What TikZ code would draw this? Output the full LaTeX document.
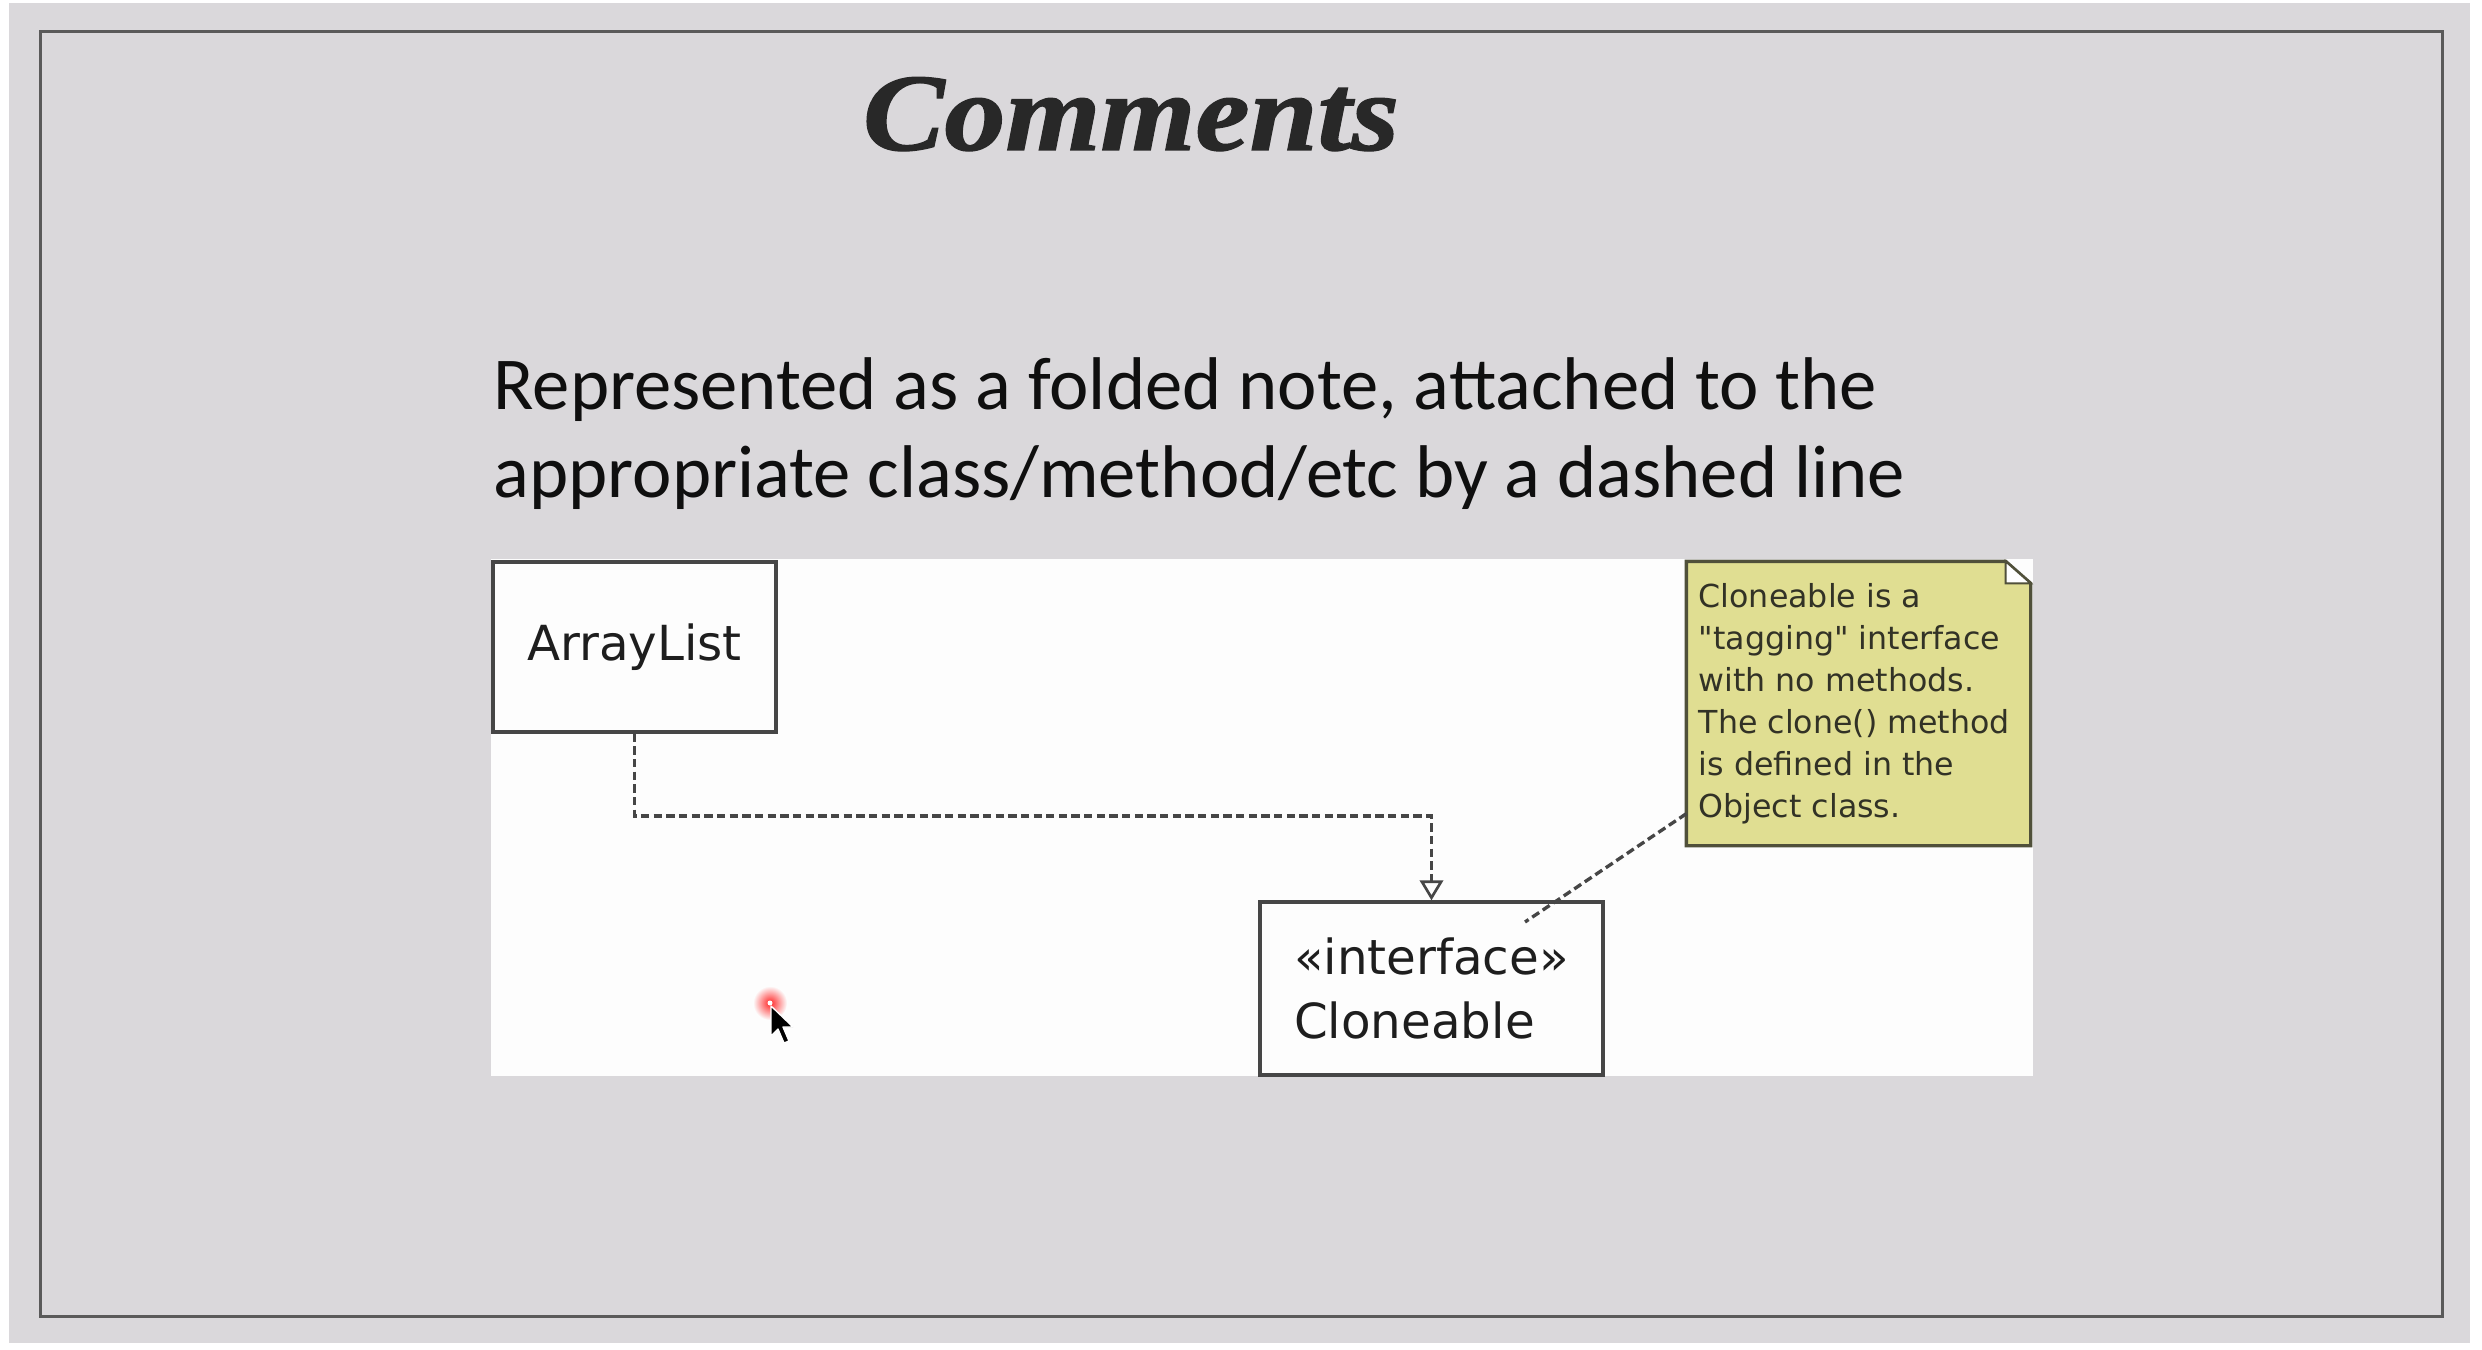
\documentclass[tikz,border=0pt]{standalone}
\usepackage{fontspec}
\setmainfont{Carlito}
\newfontfamily\titlefont[BoldItalicFeatures={FakeBold=1.2}]{Liberation Serif}
\newfontfamily\umlfont{DejaVu Sans}
\usetikzlibrary{arrows.meta,calc}
\definecolor{bggray}{RGB}{218,216,219}
\definecolor{framegray}{RGB}{90,90,90}
\definecolor{panelwhite}{RGB}{253,253,253}
\definecolor{umlline}{RGB}{70,70,70}
\definecolor{umltext}{RGB}{30,30,30}
\definecolor{titlecol}{RGB}{40,40,40}
\definecolor{notefill}{RGB}{224,222,146}
\definecolor{noteline}{RGB}{80,80,58}
\definecolor{notetext}{RGB}{50,50,38}
\tikzset{
  classbox/.style={draw=umlline, line width=1pt, fill=panelwhite, inner sep=0pt,
    font=\umlfont\fontsize{14.5}{19.2}\selectfont, text=umltext},
  notebox/.style={draw=none, inner sep=0pt, minimum width=102.9pt, minimum height=84.9pt},
  notelabel/.style={inner sep=0pt, anchor=north west, align=left, text=notetext,
    font=\umlfont\fontsize{9.5}{12.6}\selectfont},
  dashline/.style={draw=umlline, line width=1pt, dash pattern=on 2.5pt off 1.3pt},
  bodytext/.style={inner sep=0pt, anchor=base west, text=black!94,
    font=\fontsize{22.4}{26.4}\selectfont},
}
\begin{document}
\begin{tikzpicture}[x=0.3pt,y=-0.3pt]
\useasboundingbox (0,0) rectangle (2482,1350);
% page and slide
\fill[white] (0,0) rectangle (2482,1350);
\fill[bggray] (9,3) rectangle (2470,1343);
\draw[framegray, line width=0.9pt] (40,32) rectangle (2442,1316);
% title
\node[inner sep=0pt, anchor=base, text=titlecol,
  font=\titlefont\bfseries\itshape\fontsize{33}{36}\selectfont] (title) at (1131,150)
  {\scalebox{1.11}[1]{Comments}};
% body text
\node[bodytext] (line1) at (493,410) {Represented as a folded note, attached to the};
\node[bodytext] (line2) at (493,498) {appropriate class/method/etc by a dashed line};
% diagram panel
\fill[panelwhite] (491,559) rectangle (2033,1076);
% classes
\node[classbox, minimum width=84.9pt, minimum height=51pt] (al) at (634.5,647) {ArrayList};
\node[classbox, minimum width=102.9pt, minimum height=51.9pt, align=left] (cl) at (1431.5,988.5)
  {«interface»\\Cloneable};
% note
\node[notebox] (note) at (1858.5,703.5) {};
\draw[noteline, fill=notefill, line width=1pt]
  (note.north west) -- ($(note.north east)+(-25,0)$) -- ($(note.north east)+(0,22)$)
  -- (note.south east) -- (note.south west) -- cycle;
\draw[noteline, fill=white, line width=0.6pt]
  ($(note.north east)+(-25,0)$) -- ($(note.north east)+(-25,22)$) -- ($(note.north east)+(0,22)$) -- cycle;
\node[notelabel] (ntext) at (1698,583)
  {Cloneable is a\\"tagging" interface\\with no methods.\\The clone() method\\is defined in the\\Object class.};
% connectors
\coordinate (bend) at (634.5,816);
\draw[dashline, -{Triangle[open, length=6pt, width=7pt, line width=0.8pt, sep=0pt]}]
  (al.south) -- (bend) -| (cl.north);
\coordinate (nattach) at ($(note.south west)+(0,-32)$);
\coordinate (canchor) at (1525,922);
\draw[dashline] (nattach) -- (canchor);
% cursor
\shade[inner color=red!85!white, outer color=panelwhite] (770,1003) circle (17);
\fill[white] (770,1003) circle (2.5);
\draw[white, line width=0.4pt, fill=black, line join=round]
  (771,1006) -- (771,1036) -- (778,1029) -- (784,1043) -- (789,1041) -- (783,1027) -- (793,1027) -- cycle;
\end{tikzpicture}
\end{document}
